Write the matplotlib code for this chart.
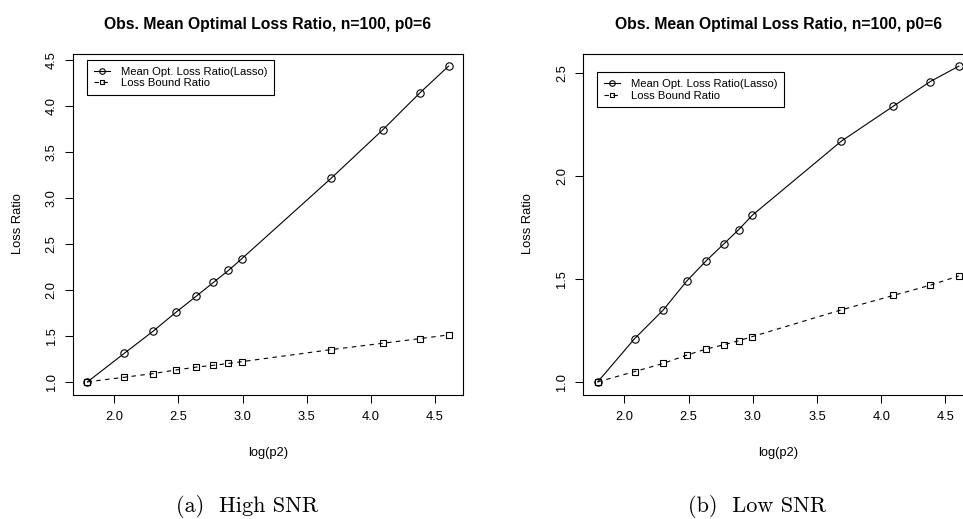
import matplotlib
matplotlib.use("Agg")
import matplotlib.pyplot as plt

plt.rcParams['font.family'] = ['Liberation Sans', 'DejaVu Sans']

# log(p2) values
x = [1.792, 2.079, 2.303, 2.485, 2.639, 2.773, 2.890, 2.996, 3.689, 4.094, 4.382, 4.605]

# (a) High SNR
high_lasso = [1.00, 1.31, 1.55, 1.76, 1.93, 2.08, 2.21, 2.34, 3.21, 3.74, 4.14, 4.43]
high_bound = [1.00, 1.05, 1.09, 1.13, 1.16, 1.18, 1.20, 1.22, 1.35, 1.42, 1.47, 1.51]

# (b) Low SNR
low_lasso = [1.00, 1.21, 1.35, 1.49, 1.59, 1.67, 1.74, 1.81, 2.17, 2.34, 2.46, 2.535]
low_bound = [1.00, 1.05, 1.09, 1.13, 1.16, 1.18, 1.20, 1.22, 1.35, 1.42, 1.47, 1.515]

title = "Obs. Mean Optimal Loss Ratio, n=100, p0=6"
labels = ["Mean Opt. Loss Ratio(Lasso)", "Loss Bound Ratio"]
xticks = [2.0, 2.5, 3.0, 3.5, 4.0, 4.5]

W, H = 963, 519
fig = plt.figure(figsize=(W / 100, H / 100), dpi=100)


def make_panel(left_px, y_lasso, y_bound, yticks, leg_y, caption, cap_x):
    ax = fig.add_axes([left_px / W, (H - 394.5) / H, 390 / W, 341 / H])
    ax.plot(x, y_lasso, color='black', lw=0.8, marker='o', ms=5.3,
            mfc='none', mew=0.8, label=labels[0])
    ax.plot(x, y_bound, color='black', lw=0.8, ls=(0, (4, 4)), marker='s',
            ms=4.3, mfc='none', mew=0.8, label=labels[1])
    span = x[-1] - x[0]
    ax.set_xlim(x[0] - 0.04 * span, x[-1] + 0.04 * span)
    ylo, yhi = min(y_lasso + y_bound), max(y_lasso + y_bound)
    ax.set_ylim(ylo - 0.04 * (yhi - ylo), yhi + 0.04 * (yhi - ylo))
    ax.set_xticks(xticks)
    ax.set_yticks(yticks)
    ax.set_xticklabels([f"{t:.1f}" for t in xticks])
    ax.set_yticklabels([f"{t:.1f}" for t in yticks])
    ax.tick_params(direction='out', length=6, width=0.75, labelsize=9.3,
                   colors='black')
    ax.tick_params(axis='x', pad=6)
    ax.tick_params(axis='y', pad=5, labelrotation=90)
    for lab in ax.get_yticklabels():
        lab.set_va('center')
    for s in ax.spines.values():
        s.set_linewidth(0.8)
    ax.set_xlabel("log(p2)", fontsize=9.3, labelpad=17)
    ax.set_ylabel("Loss Ratio", fontsize=9.3, labelpad=16)
    ax.set_title(title, fontsize=11.3, fontweight='bold', pad=18)
    leg = ax.legend(loc='upper left', bbox_to_anchor=(0.036, leg_y),
                    fontsize=8.1, frameon=True, fancybox=False, framealpha=1,
                    edgecolor='black', handlelength=1.4, handletextpad=1.0,
                    borderpad=0.6, labelspacing=0.15, borderaxespad=0,
                    markerscale=0.75)
    leg.get_frame().set_linewidth(0.8)
    fig.text(cap_x / W, (H - 506.5) / H, caption, fontfamily='cmr10',
             fontsize=16, ha='center', va='center')
    return ax


make_panel(73, high_lasso, high_bound, [1.0, 1.5, 2.0, 2.5, 3.0, 3.5, 4.0, 4.5],
           0.981, "(a)  High SNR", 246.7)
make_panel(583.3, low_lasso, low_bound, [1.0, 1.5, 2.0, 2.5],
           0.945, "(b)  Low SNR", 757.5)

fig.savefig("out.png", dpi=100)
